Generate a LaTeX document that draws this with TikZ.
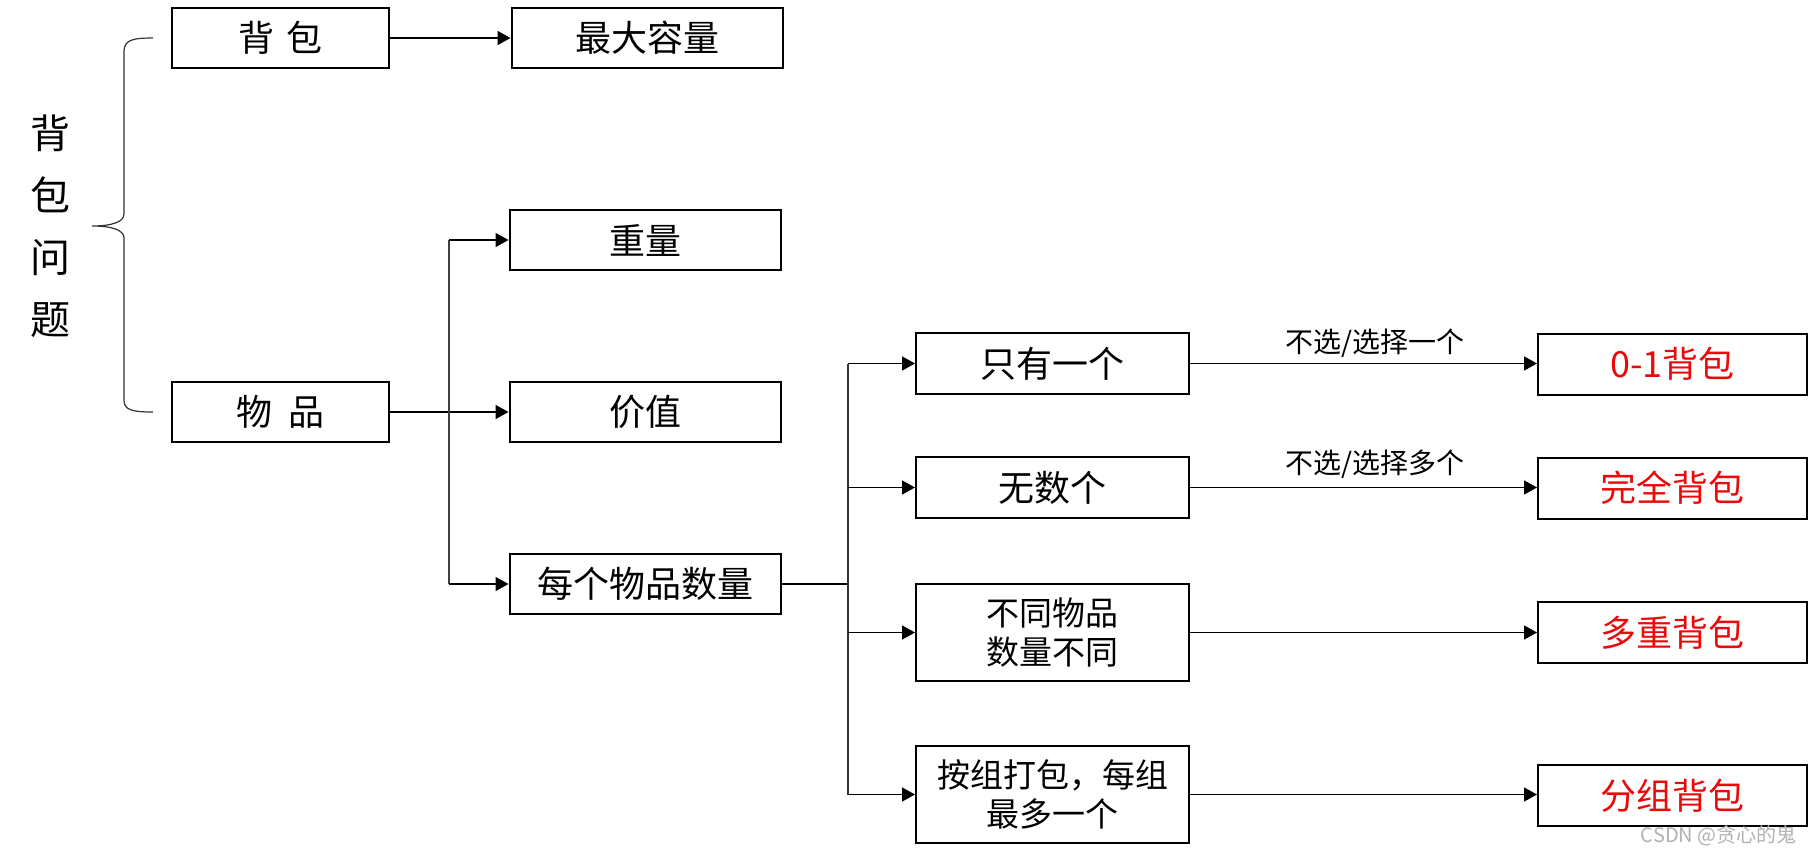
\documentclass[tikz,border=0pt]{standalone}
\usepackage{fontspec}
\setmainfont{Noto Sans CJK SC}
\usetikzlibrary{arrows.meta}
\definecolor{kred}{RGB}{235,10,10}
\begin{document}
\begin{tikzpicture}[x=0.5pt,y=-0.5pt,
  box/.style={draw, line width=1pt, inner sep=0pt, align=center,
    font=\fontsize{18pt}{22pt}\selectfont, minimum height=30pt},
  lbox/.style={box, minimum width=108.5pt},
  mbox/.style={box, minimum width=135.5pt},
  rbox/.style={box, minimum width=136.5pt, minimum height=30.5pt},
  tbox/.style={box, minimum width=136.5pt, minimum height=48.5pt,
    font=\fontsize{16.5pt}{19.5pt}\selectfont},
  kbox/.style={box, minimum width=134.5pt, minimum height=30.5pt, text=kred},
  conn/.style={line width=0.75pt},
  thinconn/.style={line width=0.55pt, draw=black!75},
  arr/.style={conn, -{Triangle[length=6.5pt,width=7pt]}},
  lab/.style={font=\fontsize{14pt}{16pt}\selectfont, inner sep=0pt},
]
\useasboundingbox (0,0) rectangle (1810,852);

% title
\node[align=center, inner sep=0pt, font=\fontsize{20pt}{31pt}\selectfont] (title) at (50,226) {背\\包\\问\\题};

% brace
\draw[line width=0.6pt, draw=black!80] (153,38) .. controls (132,38) and (124,40) .. (124,52) -- (124,214)
  .. controls (124,222) and (112,226) .. (92,226)
  .. controls (112,226) and (124,230) .. (124,238) -- (124,400)
  .. controls (124,410) and (132,412) .. (153,412);

% left column
\node[lbox] (bb) at (280.5,38) {背\hspace{6.5pt}包};
\node[lbox] (wp) at (280.5,412) {物\hspace{8pt}品};

% middle column
\node[mbox] (cap) at (647,38) {最大容量};
\node[mbox] (wt) at (645,240) {重量};
\node[mbox] (val) at (645,412) {价值};
\node[mbox] (num) at (645,584) {每个物品数量};

% right column
\node[rbox] (r1) at (1052.5,363.5) {只有一个};
\node[rbox] (r2) at (1052.5,487.5) {无数个};
\node[tbox] (r3) at (1052.5,632.5) {不同物品\\数量不同};
\node[tbox] (r4) at (1052.5,794.5) {按组打包，每组\\最多一个};

% knapsack types
\node[kbox] (k1) at (1672.5,364) {0-1背包};
\node[kbox] (k2) at (1672.5,488) {完全背包};
\node[kbox] (k3) at (1672.5,632.5) {多重背包};
\node[kbox] (k4) at (1672.5,795.5) {分组背包};

% connectors
\draw[arr] (bb.east) -- (bb.east -| cap.west);
\draw[arr] (wp.east) -- (wp.east -| val.west);

\coordinate (f1) at (449,412);
\draw[thinconn] (f1 |- wt.west) -- (f1 |- num.west);
\draw[arr] (f1 |- wt.west) -- (wt.west);
\draw[arr] (f1 |- num.west) -- (num.west);

\coordinate (f2) at (848,584);
\draw[line width=1.1pt] (num.east) -- (f2);
\draw[conn, draw=black!80] (f2 |- r1.west) -- (f2 |- r4.west);
\draw[arr] (f2 |- r1.west) -- (r1.west);
\draw[arr] (f2 |- r2.west) -- (r2.west);
\draw[arr] (f2 |- r3.west) -- (r3.west);
\draw[arr] (f2 |- r4.west) -- (r4.west);

\draw[arr] (r1.east) -- (r1.east -| k1.west);
\draw[arr] (r2.east) -- (r2.east -| k2.west);
\draw[arr] (r3.east) -- (r3.east -| k3.west);
\draw[arr] (r4.east) -- (r4.east -| k4.west);

\node[lab] (l1) at (1375,343) {不选/选择一个};
\node[lab] (l2) at (1375,464) {不选/选择多个};

% watermark
\node[anchor=east, inner sep=0pt, text=black!30, font=\fontsize{10pt}{12pt}\selectfont] (wm) at (1797,836) {CSDN @贪心的鬼};
\end{tikzpicture}
\end{document}
